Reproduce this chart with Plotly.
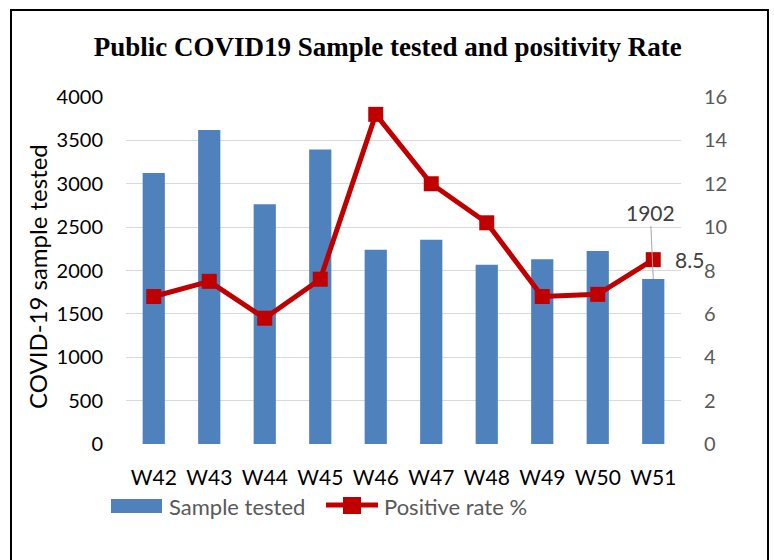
import plotly.graph_objects as go

weeks = ["W42", "W43", "W44", "W45", "W46", "W47", "W48", "W49", "W50", "W51"]
samples_tested = [3125, 3620, 2765, 3395, 2240, 2355, 2065, 2130, 2225, 1902]
positive_rate = [6.8, 7.5, 5.8, 7.6, 15.2, 12.0, 10.2, 6.8, 6.9, 8.5]

W, H = 774, 560
ML, MR, MT, MB = 126, 93, 97, 116
pw = W - ML - MR
ph = H - MT - MB

font_main = "Lato, 'Open Sans', sans-serif"
BAR_COLOR = "#4F81BD"
LINE_COLOR = "#C00000"


def px2paper_x(px):
    return (px - ML) / pw


def px2paper_y(py):
    return (H - MB - py) / ph


fig = go.Figure()
fig.add_trace(go.Bar(
    x=weeks, y=samples_tested, name="Sample tested",
    marker=dict(color=BAR_COLOR, line=dict(width=0)),
    showlegend=False,
))
fig.add_trace(go.Scatter(
    x=weeks, y=positive_rate, name="Positive rate %", yaxis="y2",
    mode="lines+markers",
    line=dict(color=LINE_COLOR, width=5),
    marker=dict(symbol="square", size=15, color=LINE_COLOR),
    showlegend=False,
))

# data labels for last point
fig.add_annotation(
    x=weeks[-1], y=samples_tested[-1], xref="x", yref="y",
    text=str(samples_tested[-1]), showarrow=True, arrowhead=0,
    arrowcolor="#A6A6A6", arrowwidth=1, ax=-3, ay=-67, standoff=0,
    font=dict(family=font_main, size=21, color="#404040"),
)
fig.add_annotation(
    x=weeks[-1], y=positive_rate[-1], xref="x", yref="y2",
    text=f"{positive_rate[-1]}", showarrow=False, xanchor="left", xshift=20,
    font=dict(family=font_main, size=21, color="#404040"),
)

# y-axis title
fig.add_annotation(
    xref="paper", yref="paper", x=px2paper_x(37), y=px2paper_y(277),
    text="COVID-19 sample tested", textangle=-90, showarrow=False,
    xanchor="center", yanchor="middle",
    font=dict(family=font_main, size=24, color="#000000"),
)

# outer frame
fig.add_shape(
    type="rect", xref="paper", yref="paper",
    x0=px2paper_x(11), x1=px2paper_x(768), y0=px2paper_y(575), y1=px2paper_y(10),
    line=dict(color="#000000", width=2), fillcolor="rgba(0,0,0,0)", layer="below",
)

# legend (drawn like the Excel legend)
fig.add_shape(
    type="rect", xref="paper", yref="paper",
    x0=px2paper_x(111), x1=px2paper_x(162), y0=px2paper_y(513), y1=px2paper_y(499),
    line=dict(width=0), fillcolor=BAR_COLOR,
)
fig.add_annotation(
    xref="paper", yref="paper", x=px2paper_x(167), y=px2paper_y(506),
    text="Sample tested", showarrow=False, xanchor="left", yanchor="middle",
    font=dict(family=font_main, size=22, color="#595959"),
)
fig.add_shape(
    type="line", xref="paper", yref="paper",
    x0=px2paper_x(326), x1=px2paper_x(378), y0=px2paper_y(505), y1=px2paper_y(505),
    line=dict(color=LINE_COLOR, width=5),
)
fig.add_shape(
    type="rect", xref="paper", yref="paper",
    x0=px2paper_x(343), x1=px2paper_x(361), y0=px2paper_y(514), y1=px2paper_y(497),
    line=dict(width=0), fillcolor=LINE_COLOR,
)
fig.add_annotation(
    xref="paper", yref="paper", x=px2paper_x(382), y=px2paper_y(506),
    text="Positive rate %", showarrow=False, xanchor="left", yanchor="middle",
    font=dict(family=font_main, size=22, color="#595959"),
)

fig.update_layout(
    width=W, height=H,
    margin=dict(l=ML, r=MR, t=MT, b=MB, pad=0, autoexpand=False),
    paper_bgcolor="white", plot_bgcolor="white",
    bargap=0.6,
    showlegend=False,
    title=dict(
        text="<b>Public COVID19 Sample tested and positivity Rate</b>",
        x=0.501, xanchor="center", y=1 - 47 / H, yanchor="middle", yref="container",
        font=dict(family="'Liberation Serif', 'Times New Roman', serif", size=27, color="#000000"),
    ),
    xaxis=dict(
        type="category", range=[-0.5, len(weeks) - 0.5], autorange=False,
        showgrid=False, showline=False, zeroline=False,
        tickfont=dict(family=font_main, size=21, color="#000000"),
        ticks="", ticklabelstandoff=19,
    ),
    yaxis=dict(
        range=[0, 4000], dtick=500, showgrid=True, gridcolor="#D9D9D9", gridwidth=1,
        zeroline=False, showline=False, ticks="",
        tickfont=dict(family=font_main, size=20, color="#000000"),
        ticklabelstandoff=22,
    ),
    yaxis2=dict(
        range=[0, 16], dtick=2, overlaying="y", side="right", showgrid=False,
        zeroline=False, showline=False, ticks="",
        tickfont=dict(family=font_main, size=20, color="#595959"),
        ticklabelstandoff=22,
    ),
)

fig.write_html(
    "out.html",
    config={"displayModeBar": False},
    post_script="document.body.style.margin='0px';",
)
